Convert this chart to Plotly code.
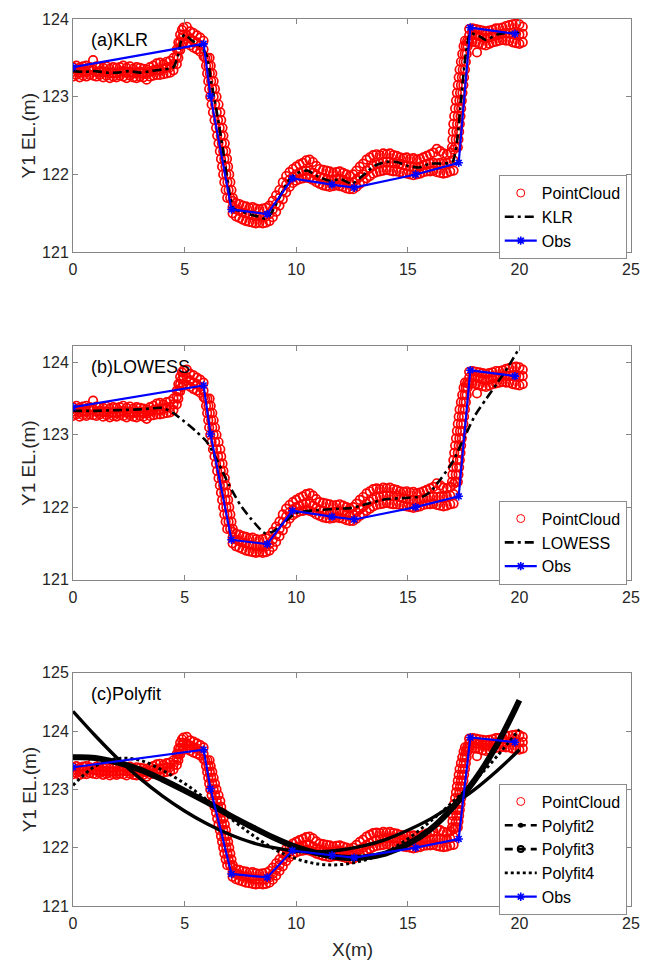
import plotly.graph_objects as go

FONT = "Liberation Sans, Arial, sans-serif"

# ---------------- data ----------------
# Observed cross-section survey points
OBS_X = [0.0, 5.85, 6.16, 7.10, 8.70, 9.83, 11.60, 12.60, 15.35, 17.28, 17.80, 19.80]
OBS_Y = [123.38, 123.68, 123.01, 121.55, 121.49, 121.95, 121.87, 121.83, 122.00, 122.15, 123.89, 123.81]

# Kernel logistic regression profile
KLR_X = [0, 0.5, 1, 1.5, 2, 2.5, 3, 3.5, 4, 4.3, 4.5, 4.7, 4.85, 5.0, 5.15, 5.3, 5.5, 5.7, 5.85,
         6.0, 6.2, 6.5, 6.8, 7.0, 7.2, 7.6, 8.0, 8.3, 8.6, 8.8, 9.0, 9.3, 9.6, 10.0, 10.5, 11.0,
         11.5, 12.0, 12.5, 13.0, 13.5, 14.0, 14.5, 15.0, 15.5, 16.0, 16.5, 17.0, 17.2, 17.4, 17.6,
         17.8, 18.0, 18.2, 18.5, 19.0, 19.5, 20.0]
KLR_Y = [123.33, 123.32, 123.33, 123.31, 123.31, 123.33, 123.31, 123.33, 123.35, 123.36, 123.38,
         123.52, 123.73, 123.80, 123.77, 123.73, 123.69, 123.65, 123.60, 123.52, 123.18, 122.71,
         122.16, 121.77, 121.56, 121.52, 121.48, 121.46, 121.43, 121.47, 121.56, 121.73, 121.90,
         122.01, 122.05, 121.97, 121.92, 121.94, 121.88, 121.99, 122.11, 122.16, 122.16, 122.11,
         122.09, 122.14, 122.14, 122.16, 122.41, 123.00, 123.56, 123.82, 123.80, 123.78, 123.73,
         123.80, 123.82, 123.82]

# LOWESS profile
LOW_X = [0, 1, 2, 3, 4, 4.5, 5, 5.5, 6, 6.5, 7, 7.5, 8, 8.6, 9, 9.5, 10, 11, 12, 12.5, 13, 14,
         15, 15.7, 16, 16.5, 17, 17.5, 18, 18.5, 19, 19.5, 20]
LOW_Y = [123.33, 123.33, 123.34, 123.35, 123.37, 123.30, 123.18, 123.05, 122.90, 122.62, 122.30,
         122.03, 121.83, 121.64, 121.67, 121.80, 121.92, 121.96, 121.98, 121.99, 122.03, 122.11,
         122.13, 122.15, 122.21, 122.40, 122.62, 122.94, 123.26, 123.49, 123.71, 123.94, 124.20]

# Polynomial fits of degree 2, 3 and 4
POLY_X = [0, 1, 2, 3, 4, 5, 6, 7, 8, 9, 10, 11, 12, 13, 14, 15, 16, 17, 18, 19, 20]
POLY2_Y = [124.34, 123.92, 123.53, 123.19, 122.89, 122.63, 122.41, 122.23, 122.09, 122.00, 121.94,
           121.93, 121.96, 122.03, 122.14, 122.30, 122.49, 122.73, 123.00, 123.32, 123.68]
POLY3_Y = [123.55, 123.54, 123.46, 123.34, 123.17, 122.98, 122.78, 122.56, 122.36, 122.17, 122.01,
           121.90, 121.83, 121.83, 121.90, 122.06, 122.31, 122.68, 123.16, 123.77, 124.53]
POLY4_Y = [123.07, 123.40, 123.53, 123.50, 123.33, 123.10, 122.82, 122.52, 122.23, 121.98, 121.81,
           121.72, 121.71, 121.78, 121.92, 122.15, 122.45, 122.78, 123.15, 123.57, 124.03]

# Point cloud, flat stretches: (x, elevations at that x)
CLOUD_COLUMNS = [
    (0.00, (123.26, 123.32, 123.38)), (0.15, (123.28, 123.34, 123.40)), (0.30, (123.25, 123.31, 123.37)),
    (0.45, (123.27, 123.33, 123.39)), (0.60, (123.26, 123.32, 123.40)), (0.75, (123.28, 123.34, 123.38)),
    (0.90, (123.27, 123.35, 123.47)), (1.05, (123.26, 123.32, 123.39)), (1.20, (123.28, 123.33, 123.38)),
    (1.35, (123.25, 123.31, 123.37)), (1.50, (123.27, 123.32, 123.39)), (1.65, (123.24, 123.30, 123.36)),
    (1.80, (123.26, 123.31, 123.38)), (1.95, (123.25, 123.30, 123.37)), (2.10, (123.27, 123.32, 123.38)),
    (2.25, (123.26, 123.33, 123.40)), (2.40, (123.24, 123.31, 123.37)), (2.55, (123.27, 123.32, 123.39)),
    (2.70, (123.25, 123.30, 123.36)), (2.85, (123.24, 123.31, 123.38)), (3.00, (123.26, 123.32, 123.37)),
    (3.15, (123.25, 123.30, 123.36)), (3.30, (123.22, 123.29, 123.35)), (3.45, (123.26, 123.32, 123.38)),
    (3.60, (123.27, 123.34, 123.40)), (3.75, (123.28, 123.35, 123.43)), (3.90, (123.28, 123.34, 123.44)),
    (4.05, (123.29, 123.36, 123.42)), (4.20, (123.30, 123.37, 123.45)), (4.35, (123.31, 123.38, 123.46)),
    (4.50, (123.34, 123.42, 123.50)), (4.65, (123.42, 123.52, 123.61)), (4.72, (123.50, 123.60, 123.70)),
    (4.80, (123.60, 123.70, 123.80)), (4.88, (123.66, 123.76, 123.86)), (4.95, (123.70, 123.80, 123.89)),
    (5.10, (123.69, 123.79, 123.90)), (5.25, (123.66, 123.75, 123.84)), (5.40, (123.63, 123.72, 123.82)),
    (5.55, (123.61, 123.70, 123.79)), (5.70, (123.58, 123.66, 123.76)), (5.85, (123.52, 123.61, 123.72)),
    (7.15, (121.50, 121.58, 121.66)), (7.30, (121.46, 121.55, 121.63)), (7.45, (121.44, 121.53, 121.62)),
    (7.60, (121.42, 121.51, 121.60)), (7.75, (121.40, 121.50, 121.59)), (7.90, (121.39, 121.48, 121.57)),
    (8.05, (121.38, 121.47, 121.58)), (8.20, (121.37, 121.46, 121.56)), (8.35, (121.38, 121.46, 121.55)),
    (8.50, (121.37, 121.45, 121.56)), (8.65, (121.38, 121.46, 121.57)), (8.80, (121.40, 121.49, 121.60)),
    (8.95, (121.45, 121.55, 121.66)), (9.10, (121.52, 121.62, 121.73)), (9.25, (121.60, 121.70, 121.80)),
    (9.40, (121.68, 121.79, 121.90)), (9.55, (121.77, 121.87, 121.98)), (9.70, (121.84, 121.93, 122.03)),
    (9.85, (121.89, 121.97, 122.07)), (10.00, (121.92, 122.00, 122.10)), (10.15, (121.94, 122.02, 122.13)),
    (10.30, (121.95, 122.04, 122.15)), (10.45, (121.96, 122.05, 122.18)), (10.60, (121.95, 122.05, 122.19)),
    (10.75, (121.93, 122.02, 122.16)), (10.90, (121.90, 121.99, 122.11)), (11.05, (121.88, 121.97, 122.07)),
    (11.20, (121.86, 121.95, 122.06)), (11.35, (121.85, 121.93, 122.05)), (11.50, (121.84, 121.92, 122.04)),
    (11.65, (121.85, 121.93, 122.02)), (11.80, (121.86, 121.94, 122.03)), (11.95, (121.85, 121.94, 122.04)),
    (12.10, (121.84, 121.93, 122.02)), (12.25, (121.82, 121.91, 122.00)), (12.40, (121.81, 121.89, 121.98)),
    (12.55, (121.81, 121.90, 122.00)), (12.70, (121.84, 121.93, 122.05)), (12.85, (121.88, 121.97, 122.10)),
    (13.00, (121.91, 122.00, 122.14)), (13.15, (121.95, 122.05, 122.19)), (13.30, (121.98, 122.08, 122.22)),
    (13.45, (122.01, 122.11, 122.25)), (13.60, (122.03, 122.13, 122.26)), (13.75, (122.04, 122.14, 122.25)),
    (13.90, (122.05, 122.16, 122.27)), (14.05, (122.06, 122.16, 122.26)), (14.20, (122.05, 122.16, 122.27)),
    (14.35, (122.04, 122.15, 122.25)), (14.50, (122.04, 122.16, 122.24)), (14.65, (122.03, 122.14, 122.22)),
    (14.80, (122.02, 122.12, 122.21)), (14.95, (122.01, 122.11, 122.22)), (15.10, (122.00, 122.10, 122.20)),
    (15.25, (121.99, 122.09, 122.21)), (15.40, (122.00, 122.09, 122.19)), (15.55, (122.01, 122.10, 122.20)),
    (15.70, (122.03, 122.12, 122.22)), (15.85, (122.04, 122.13, 122.24)), (16.00, (122.04, 122.14, 122.26)),
    (16.15, (122.05, 122.15, 122.28)), (16.30, (122.03, 122.14, 122.33)), (16.45, (122.02, 122.15, 122.30)),
    (16.60, (122.01, 122.14, 122.27)), (16.75, (122.02, 122.15, 122.26)), (16.90, (122.04, 122.16, 122.28)),
    (17.05, (122.05, 122.18, 122.32)), (17.75, (123.70, 123.79, 123.87)), (17.90, (123.71, 123.80, 123.88)),
    (18.05, (123.70, 123.79, 123.87)), (18.10, (123.57,)), (18.20, (123.69, 123.78, 123.86)),
    (18.35, (123.67, 123.76, 123.85)), (18.50, (123.66, 123.75, 123.84)), (18.65, (123.68, 123.76, 123.85)),
    (18.80, (123.70, 123.78, 123.86)), (18.95, (123.71, 123.79, 123.88)), (19.10, (123.72, 123.80, 123.88)),
    (19.25, (123.73, 123.81, 123.89)), (19.40, (123.72, 123.82, 123.91)), (19.55, (123.72, 123.81, 123.92)),
    (19.70, (123.70, 123.82, 123.93)), (19.85, (123.69, 123.81, 123.94)), (20.00, (123.68, 123.80, 123.93)),
    (20.15, (123.70, 123.81, 123.90)),
]

# Point cloud, bank slopes: (elevation, x positions at that elevation)
CLOUD_ROWS = [
    (123.50, (5.92, 6.02, 6.12)), (123.40, (5.96, 6.07, 6.17)), (123.30, (6.01, 6.13, 6.24)),
    (123.20, (6.06, 6.19, 6.30)), (123.10, (6.10, 6.24, 6.36)), (123.00, (6.15, 6.30, 6.43)),
    (122.90, (6.21, 6.37, 6.52)), (122.80, (6.27, 6.44, 6.60)), (122.70, (6.34, 6.50, 6.64)),
    (122.60, (6.41, 6.57, 6.70)), (122.50, (6.46, 6.62, 6.74)), (122.40, (6.52, 6.67, 6.80)),
    (122.30, (6.58, 6.73, 6.85)), (122.20, (6.63, 6.78, 6.90)), (122.10, (6.68, 6.83, 6.95)),
    (122.00, (6.73, 6.87, 7.00)), (121.90, (6.78, 6.92, 7.05)), (121.80, (6.84, 6.97, 7.10)),
    (121.70, (6.91, 7.04, 7.16)),
    (122.35, (16.98, 17.12, 17.24)), (122.45, (17.00, 17.15, 17.27)), (122.55, (17.02, 17.18, 17.30)),
    (122.65, (17.04, 17.21, 17.33)), (122.75, (17.08, 17.24, 17.36)), (122.85, (17.12, 17.28, 17.39)),
    (122.95, (17.16, 17.31, 17.42)), (123.05, (17.20, 17.34, 17.45)), (123.15, (17.24, 17.38, 17.49)),
    (123.25, (17.28, 17.42, 17.52)), (123.35, (17.32, 17.46, 17.56)), (123.45, (17.38, 17.50, 17.60)),
    (123.55, (17.44, 17.55, 17.64)), (123.65, (17.50, 17.60, 17.68)), (123.72, (17.56, 17.66, 17.74)),
]

PANEL_LABELS = ["(a)KLR", "(b)LOWESS", "(c)Polyfit"]
Y_RANGES = [[121, 124], [121, 124.22], [121, 125]]
Y_TICKS = [[121, 122, 123, 124], [121, 122, 123, 124], [121, 122, 123, 124, 125]]
X_TICKS = [0, 5, 10, 15, 20, 25]

# ---------------- build ----------------
cloud_x, cloud_y = [], []
for x, ys in CLOUD_COLUMNS:
    for y in ys:
        cloud_x.append(x)
        cloud_y.append(y)
for y, xs in CLOUD_ROWS:
    for x in xs:
        cloud_x.append(x)
        cloud_y.append(y)

RED = "#ff0000"
BLUE = "#0000ff"
AXIS_GREY = "#858585"

fig = go.Figure()


def cloud_traces(i, legend):
    # dense scatter of the surveyed points plus a thin-ring key for the legend
    return [
        go.Scatter(
            x=cloud_x, y=cloud_y, mode="markers", name="PointCloud", showlegend=False,
            marker=dict(symbol="circle-open", size=8.5, color=RED, line=dict(width=1.7, color=RED)),
            xaxis=f"x{i}", yaxis=f"y{i}", legend=legend,
        ),
        go.Scatter(
            x=[None], y=[None], mode="markers", name="PointCloud",
            marker=dict(symbol="circle-open", size=8, color=RED, line=dict(width=1, color=RED)),
            xaxis=f"x{i}", yaxis=f"y{i}", legend=legend, showlegend=True,
        ),
    ]


def obs_trace(i, legend):
    return go.Scatter(
        x=OBS_X, y=OBS_Y, mode="lines+markers", name="Obs",
        line=dict(color=BLUE, width=2.2),
        marker=dict(symbol="asterisk-open", size=7, color=BLUE, line=dict(width=1.6, color=BLUE)),
        xaxis=f"x{i}", yaxis=f"y{i}", legend=legend, showlegend=True,
    )


DASHDOT = "9px,4px,3px,4px"

# panel (a)
fig.add_traces(cloud_traces(1, "legend"))
fig.add_trace(go.Scatter(x=KLR_X, y=KLR_Y, mode="lines", name="KLR",
                         line=dict(color="black", width=2.6, dash=DASHDOT, shape="spline", smoothing=0.6),
                         xaxis="x1", yaxis="y1", legend="legend"))
fig.add_trace(obs_trace(1, "legend"))

# panel (b)
fig.add_traces(cloud_traces(2, "legend2"))
fig.add_trace(go.Scatter(x=LOW_X, y=LOW_Y, mode="lines", name="LOWESS",
                         line=dict(color="black", width=2.6, dash=DASHDOT, shape="spline", smoothing=0.6),
                         xaxis="x2", yaxis="y2", legend="legend2"))
fig.add_trace(obs_trace(2, "legend2"))

# panel (c)
fig.add_traces(cloud_traces(3, "legend3"))
fig.add_trace(go.Scatter(x=POLY_X, y=POLY2_Y, mode="lines", name="Polyfit2", showlegend=False,
                         line=dict(color="black", width=3.4, shape="spline"),
                         xaxis="x3", yaxis="y3", legend="legend3"))
fig.add_trace(go.Scatter(x=POLY_X, y=POLY3_Y, mode="lines", name="Polyfit3", showlegend=False,
                         line=dict(color="black", width=6, shape="spline"),
                         xaxis="x3", yaxis="y3", legend="legend3"))
fig.add_trace(go.Scatter(x=POLY_X, y=POLY4_Y, mode="lines", name="Polyfit4", showlegend=False,
                         line=dict(color="black", width=3, dash="3px,3px", shape="spline"),
                         xaxis="x3", yaxis="y3", legend="legend3"))
# legend keys for the fitted polynomials
fig.add_trace(go.Scatter(x=[None], y=[None], mode="lines+markers", name="Polyfit2",
                         line=dict(color="black", width=2.6, dash="8px,5px"),
                         marker=dict(symbol="circle", size=5, color="black"),
                         xaxis="x3", yaxis="y3", legend="legend3"))
fig.add_trace(go.Scatter(x=[None], y=[None], mode="lines+markers", name="Polyfit3",
                         line=dict(color="black", width=2.6, dash="8px,5px"),
                         marker=dict(symbol="circle-open", size=6, color="black", line=dict(width=2)),
                         xaxis="x3", yaxis="y3", legend="legend3"))
fig.add_trace(go.Scatter(x=[None], y=[None], mode="lines", name="Polyfit4",
                         line=dict(color="black", width=2.6, dash="3px,3px"),
                         xaxis="x3", yaxis="y3", legend="legend3"))
fig.add_trace(obs_trace(3, "legend3"))

# ---------------- layout ----------------
DOMAINS = [[0.7371, 1.0], [0.3680, 0.6309], [0.0, 0.2629]]
LEGEND_TOPS = [0.824, 0.457, 0.138]

tickfont = dict(family=FONT, size=16, color="#262626")
layout = dict(
    width=651, height=962,
    margin=dict(l=73, r=11, t=16, b=56),
    paper_bgcolor="white", plot_bgcolor="white",
    font=dict(family=FONT, size=16, color="#262626"),
)
for i in range(3):
    sfx = "" if i == 0 else str(i + 1)
    layout["xaxis" + sfx] = dict(
        domain=[0, 1], range=[0, 25], tickvals=X_TICKS, anchor="y" + sfx,
        ticks="inside", ticklen=5, tickcolor=AXIS_GREY, showline=True, linecolor=AXIS_GREY,
        linewidth=1, mirror="ticks", showgrid=False, zeroline=False, tickfont=tickfont,
        ticklabelstandoff=3,
    )
    layout["yaxis" + sfx] = dict(
        domain=DOMAINS[i], range=Y_RANGES[i], tickvals=Y_TICKS[i], anchor="x" + sfx,
        ticks="inside", ticklen=5, tickcolor=AXIS_GREY, showline=True, linecolor=AXIS_GREY,
        linewidth=1, mirror="ticks", showgrid=False, zeroline=False, tickfont=tickfont,
    )
    layout["legend" + sfx] = dict(
        x=0.763, y=LEGEND_TOPS[i], xanchor="left", yanchor="top",
        bgcolor="white", bordercolor="#8c8c8c", borderwidth=1,
        font=dict(family=FONT, size=16, color="black"),
        tracegroupgap=0, itemwidth=32,
    )

annotations = []
for i in range(3):
    sfx = "" if i == 0 else str(i + 1)
    annotations.append(dict(
        text=PANEL_LABELS[i], xref=f"x{sfx} domain", yref=f"y{sfx} domain",
        x=0.028, y=0.91, xanchor="left", yanchor="middle", showarrow=False,
        font=dict(family=FONT, size=18, color="black"),
    ))
    annotations.append(dict(
        text="Y1 EL.(m)", xref="paper", yref=f"y{sfx} domain",
        x=-0.079, y=0.5, xanchor="center", yanchor="middle", textangle=-90, showarrow=False,
        font=dict(family=FONT, size=19, color="#262626"),
    ))
annotations.append(dict(
    text="X(m)", xref="paper", yref="paper", x=0.5, y=-0.0494, xanchor="center", yanchor="middle",
    showarrow=False, font=dict(family=FONT, size=19, color="#262626"),
))
layout["annotations"] = annotations

fig.update_layout(**layout)
fig.write_html("out.html")
